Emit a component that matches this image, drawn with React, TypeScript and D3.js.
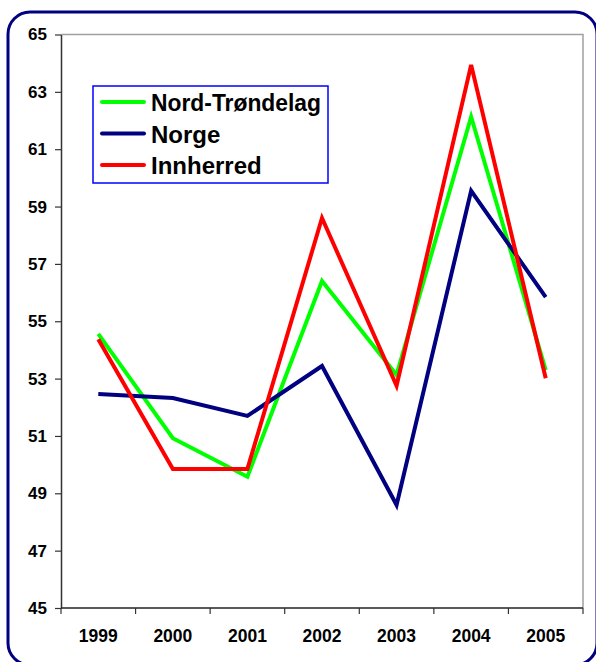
import React, { useEffect, useRef } from 'react';
import * as d3 from 'd3';

const years = ['1999', '2000', '2001', '2002', '2003', '2004', '2005'];
const nordTrondelag = [54.56, 50.92, 49.58, 56.4, 53.13, 62.13, 53.3];
const norge = [52.46, 52.32, 51.7, 53.44, 48.59, 59.55, 55.84];
const innherred = [54.37, 49.85, 49.85, 58.6, 52.75, 63.94, 53.01];
const yTicks = [45, 47, 49, 51, 53, 55, 57, 59, 61, 63, 65];

const series = [
  { name: 'Nord-Trøndelag', color: '#00ff00', values: nordTrondelag },
  { name: 'Norge', color: '#000080', values: norge },
  { name: 'Innherred', color: '#ff0000', values: innherred },
];

const FONT = '"Liberation Sans", Arial, sans-serif';

const App = () => {
  const ref = useRef<SVGSVGElement>(null);

  useEffect(() => {
    const svg = d3.select(ref.current);
    svg.selectAll('*').remove();

    const plot = { left: 61, right: 583, top: 34.5, bottom: 608 };

    // outer rounded frame
    svg.append('rect')
      .attr('x', 8).attr('y', 12)
      .attr('width', 589).attr('height', 653)
      .attr('rx', 22)
      .attr('fill', 'white')
      .attr('stroke', '#000080')
      .attr('stroke-width', 3);

    const x = d3.scaleBand().domain(years).range([plot.left, plot.right]).padding(0);
    const y = d3.scaleLinear().domain([45, 65]).range([plot.bottom, plot.top]);

    // grey top/right border of plot area
    svg.append('path')
      .attr('d', `M${plot.left},${plot.top}H${plot.right}V${plot.bottom}`)
      .attr('fill', 'none')
      .attr('stroke', '#a0a0a0')
      .attr('stroke-width', 1.5);

    // y axis
    const yAxis = svg.append('g')
      .attr('transform', `translate(${plot.left},0)`)
      .call(d3.axisLeft(y).tickValues(yTicks).tickSize(6).tickSizeOuter(0).tickPadding(8));
    yAxis.select('.domain').attr('stroke', '#333').attr('stroke-width', 1.5);
    yAxis.selectAll('.tick line').attr('stroke', '#333').attr('stroke-width', 1.2);
    yAxis.selectAll('.tick text')
      .attr('font-family', FONT)
      .attr('font-weight', 'bold')
      .attr('font-size', 17)
      .attr('fill', '#000');

    // x axis
    svg.append('line')
      .attr('x1', plot.left).attr('x2', plot.right)
      .attr('y1', plot.bottom).attr('y2', plot.bottom)
      .attr('stroke', '#222').attr('stroke-width', 1.5);
    const edges = years.map(d => x(d) as number).concat([plot.right]);
    svg.append('g').selectAll('line')
      .data(edges)
      .join('line')
      .attr('x1', d => d).attr('x2', d => d)
      .attr('y1', plot.bottom).attr('y2', plot.bottom + 6)
      .attr('stroke', '#333').attr('stroke-width', 1.2);
    svg.append('g').selectAll('text')
      .data(years)
      .join('text')
      .attr('x', d => (x(d) as number) + x.bandwidth() / 2)
      .attr('y', 641.5)
      .attr('text-anchor', 'middle')
      .attr('font-family', FONT)
      .attr('font-weight', 'bold')
      .attr('font-size', 17.5)
      .text(d => d);

    // lines
    const line = d3.line<number>()
      .x((_, i) => (x(years[i]) as number) + x.bandwidth() / 2)
      .y(d => y(d));

    series.forEach(s => {
      svg.append('path')
        .datum(s.values)
        .attr('fill', 'none')
        .attr('stroke', s.color)
        .attr('stroke-width', 4)
        .attr('stroke-linejoin', 'miter')
        .attr('d', line);
    });

    // legend
    const legend = svg.append('g');
    legend.append('rect')
      .attr('x', 93).attr('y', 86)
      .attr('width', 235).attr('height', 97)
      .attr('fill', 'white')
      .attr('stroke', '#0000ff')
      .attr('stroke-width', 1.5);
    series.forEach((s, i) => {
      const cy = 102 + i * 31.5;
      legend.append('line')
        .attr('x1', 102).attr('x2', 144)
        .attr('y1', cy).attr('y2', cy)
        .attr('stroke', s.color)
        .attr('stroke-width', 4)
        .attr('stroke-linecap', 'round');
      const t = legend.append('text')
        .attr('x', 151)
        .attr('y', cy + 9)
        .attr('font-family', FONT)
        .attr('font-weight', 'bold')
        .attr('font-size', 24)
        .text(s.name);
      if (i === 0) t.attr('textLength', 170).attr('lengthAdjust', 'spacingAndGlyphs');
    });
  }, []);

  return (
    <svg
      ref={ref}
      width={596}
      height={662}
      style={{ position: 'absolute', left: 0, top: 0, display: 'block' }}
    ></svg>
  );
};

export default App;
